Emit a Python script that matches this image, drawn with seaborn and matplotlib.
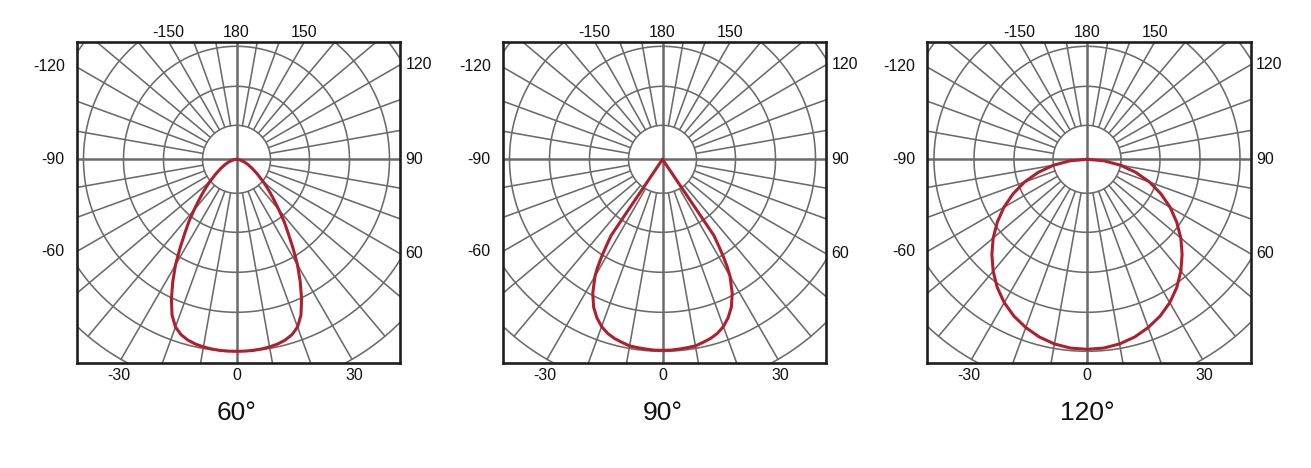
import matplotlib
matplotlib.use("Agg")
import matplotlib.pyplot as plt
import numpy as np
import pandas as pd
import seaborn as sns

# beam titles
beam_titles = ["60°", "90°", "120°"]

# half-curve: angle from nadir (deg) and relative intensity (one side, mirrored)
angles_60 = [0, 2.5, 5, 7.5, 10, 12.5, 15, 17.5, 20, 22.5, 25, 27.5, 30, 32.5, 35,
             37.5, 40, 42.5, 45, 47.5, 50, 55, 60, 65, 70, 75, 80, 85, 90]
intensity_60 = [192, 192, 191.8, 191.3, 190.5, 189.3, 187.3, 184, 178.5, 168.5, 154, 138, 122, 105, 90,
                78, 66, 56, 48, 41, 35, 25, 18, 13, 9, 5.5, 3, 1, 0]

angles_90 = [0, 2.5, 5, 7.5, 10, 12.5, 15, 17.5, 20, 22.5, 25, 27.5, 30, 31, 32, 33, 34, 40, 60, 90]
intensity_90 = [191, 191, 190.5, 190, 189.5, 187.5, 185.5, 182.5, 178, 171.5, 163, 151, 135, 126,
                115, 103, 92, 0, 0, 0]

angles_120 = [0, 5, 10, 15, 20, 25, 30, 35, 40, 45, 50, 55, 60, 65, 70, 75, 80, 85, 90]
intensity_120 = [190, 189.5, 187.5, 184, 179, 173, 165.5, 156.5, 146, 134.5, 122.5, 109.5, 96,
                 81.5, 66.5, 50.5, 34, 17, 0]

# grid rings and tick labels
ring_radii = [34, 73, 113, 153, 192, 231]
spoke_step = 10
top_ticks = [-150, 180, 150]
left_ticks = [-120, -90, -60]
right_ticks = [120, 90, 60]
bottom_ticks = [-30, 0, 30]

series = [(angles_60, intensity_60), (angles_90, intensity_90), (angles_120, intensity_120)]

XLIM = (-160, 163.5)
YLIM = (-204, 117.5)
GRID = "#6b6b6b"
RED = "#b01f2c"
FONT = ["Liberation Sans", "DejaVu Sans"]

sns.set_theme(style="white")
plt.rcParams["font.family"] = FONT
plt.rcParams["text.color"] = "#111111"

W, H = 1311, 468
fig = plt.figure(figsize=(W / 100, H / 100), dpi=100)
lefts = [76.5, 502.5, 927]
ax_w = (XLIM[1] - XLIM[0]) / W
ax_h = (YLIM[1] - YLIM[0]) / H
ax_b = (H - 363.3) / H


def polar_xy(theta_deg, r):
    t = np.deg2rad(theta_deg)
    return r * np.sin(t), -r * np.cos(t)


def edge_point(theta_deg):
    # where a ray from the centre leaves the box
    dx, dy = polar_xy(theta_deg, 1.0)
    ts = []
    if dx > 1e-9:
        ts.append(XLIM[1] / dx)
    if dx < -1e-9:
        ts.append(XLIM[0] / dx)
    if dy > 1e-9:
        ts.append(YLIM[1] / dy)
    if dy < -1e-9:
        ts.append(YLIM[0] / dy)
    t = min(ts)
    return dx * t, dy * t


for i, ((angs, vals), title) in enumerate(zip(series, beam_titles)):
    ax = fig.add_axes([lefts[i] / W, ax_b, ax_w, ax_h])

    # rings
    phi = np.linspace(0, 2 * np.pi, 721)
    for r in ring_radii:
        ax.plot(r * np.cos(phi), r * np.sin(phi), color=GRID, lw=1.15, zorder=1)

    # spokes
    for a in range(-180, 180, spoke_step):
        if a % 90 == 0:
            continue
        x0, y0 = polar_xy(a, ring_radii[0])
        x1, y1 = polar_xy(a, ring_radii[-1])
        ax.plot([x0, x1], [y0, y1], color=GRID, lw=1.15, zorder=1)
    ax.axhline(0, color=GRID, lw=1.8, zorder=1)
    ax.axvline(0, color=GRID, lw=1.8, zorder=1)

    # curve (mirror the half-curve)
    angs = np.array(angs, dtype=float)
    vals = np.array(vals, dtype=float)
    full_a = np.concatenate([-angs[::-1], angs[1:]])
    full_r = np.concatenate([vals[::-1], vals[1:]])
    x, y = polar_xy(full_a, full_r)
    df = pd.DataFrame({"x": x, "y": y})
    sns.lineplot(data=df, x="x", y="y", sort=False, estimator=None,
                 color=RED, lw=2.2, ax=ax, zorder=3)

    ax.set_xlim(*XLIM)
    ax.set_ylim(*YLIM)
    ax.set_xticks([])
    ax.set_yticks([])
    ax.set_xlabel("")
    ax.set_ylabel("")
    for sp in ax.spines.values():
        sp.set_visible(True)
        sp.set_color("#1e1e1e")
        sp.set_linewidth(1.9)

    # angle labels
    fs = 11.5
    for a in top_ticks:
        px, py = edge_point(a)
        ax.annotate(str(a), (px, py), xytext=(0, 7), textcoords="offset points",
                    ha="center", va="center", fontsize=fs, annotation_clip=False)
    for a in left_ticks:
        px, py = edge_point(a)
        ax.annotate(str(a), (px, py), xytext=(-8.5, 0), textcoords="offset points",
                    ha="right", va="center", fontsize=fs, annotation_clip=False)
    for a in right_ticks:
        px, py = edge_point(a)
        ax.annotate(str(a), (px, py), xytext=(4, 0), textcoords="offset points",
                    ha="left", va="center", fontsize=fs, annotation_clip=False)
    for a in bottom_ticks:
        px, py = edge_point(a)
        ax.annotate(str(a), (px, py), xytext=(0, -8.5), textcoords="offset points",
                    ha="center", va="center", fontsize=fs, annotation_clip=False)

    ax.annotate(title, (0, YLIM[0]), xytext=(0, -35.5), textcoords="offset points",
                ha="center", va="center", fontsize=19, annotation_clip=False)

fig.savefig("out.png", dpi=100)
